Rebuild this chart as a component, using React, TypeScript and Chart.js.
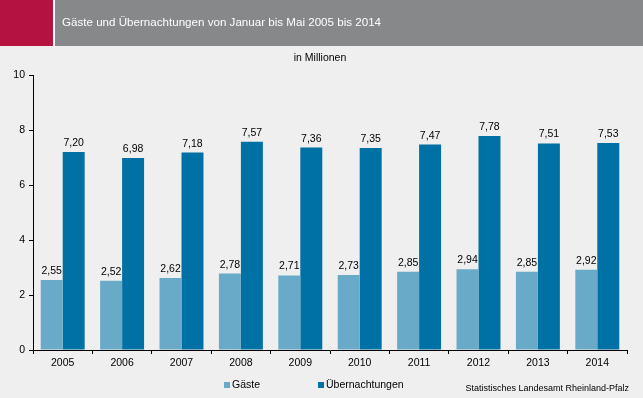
import React, { useEffect, useRef } from "react";
import { Chart, registerables } from "chart.js";

Chart.register(...registerables);

const years = ["2005", "2006", "2007", "2008", "2009", "2010", "2011", "2012", "2013", "2014"];
const gaeste = [2.55, 2.52, 2.62, 2.78, 2.71, 2.73, 2.85, 2.94, 2.85, 2.92];
const uebernachtungen = [7.2, 6.98, 7.18, 7.57, 7.36, 7.35, 7.47, 7.78, 7.51, 7.53];
const seriesNames = ["Gäste", "Übernachtungen"];
const yTicks = [0, 2, 4, 6, 8, 10];

const titleText = "Gäste und Übernachtungen von Januar bis Mai 2005 bis 2014";
const unitText = "in Millionen";
const sourceText = "Statistisches Landesamt Rheinland-Pfalz";

const FONT = '"Liberation Sans", Arial, sans-serif';
const COL_G = "#68aac8";
const COL_U = "#0071a4";
const BG = "#eeefee";

const decorPlugin = {
  id: "decor",
  beforeDraw(chart: any) {
    const ctx = chart.ctx;
    const w = chart.width;
    const h = chart.height;
    ctx.save();
    ctx.fillStyle = BG;
    ctx.fillRect(0, 0, w, h);
    ctx.fillStyle = "#b5133f";
    ctx.fillRect(0, 0, 53, 46);
    ctx.fillStyle = "#ffffff";
    ctx.fillRect(53, 0, 2, 46);
    ctx.fillStyle = "#878889";
    ctx.fillRect(55, 0, w - 55, 46);
    ctx.fillStyle = "#ffffff";
    ctx.font = `11.6px ${FONT}`;
    ctx.textBaseline = "middle";
    ctx.textAlign = "left";
    ctx.fillText(titleText, 62, 22.5);
    ctx.fillStyle = "#000000";
    ctx.font = `10.5px ${FONT}`;
    ctx.textAlign = "center";
    ctx.fillText(unitText, 320, 58.5);
    // legend
    const items = [
      { x: 224, color: COL_G, label: seriesNames[0] },
      { x: 318, color: COL_U, label: seriesNames[1] },
    ];
    ctx.textAlign = "left";
    for (const it of items) {
      ctx.fillStyle = it.color;
      ctx.fillRect(it.x, 382, 6, 6);
      ctx.fillStyle = "#000000";
      ctx.fillText(it.label, it.x + 8, 385.5);
    }
    ctx.font = `9px ${FONT}`;
    ctx.textAlign = "right";
    ctx.fillText(sourceText, 629, 389);
    ctx.restore();
  },
  afterDatasetsDraw(chart: any) {
    const ctx = chart.ctx;
    ctx.save();
    ctx.font = `10.5px ${FONT}`;
    ctx.fillStyle = "#000000";
    ctx.textAlign = "center";
    ctx.textBaseline = "alphabetic";
    chart.data.datasets.forEach((ds: any, di: number) => {
      const meta = chart.getDatasetMeta(di);
      meta.data.forEach((el: any, i: number) => {
        const v = ds.data[i] as number;
        ctx.fillText(v.toFixed(2).replace(".", ","), el.x, el.y - 6);
      });
    });
    ctx.restore();
  },
};

export default function App() {
  const ref = useRef<HTMLCanvasElement | null>(null);
  useEffect(() => {
    document.body.style.margin = "0";
    if (!ref.current) return;
    const chart = new Chart(ref.current, {
      type: "bar",
      data: {
        labels: years,
        datasets: [
          { label: seriesNames[0], data: gaeste, backgroundColor: COL_G, categoryPercentage: 0.74, barPercentage: 1 },
          { label: seriesNames[1], data: uebernachtungen, backgroundColor: COL_U, categoryPercentage: 0.74, barPercentage: 1 },
        ],
      },
      options: {
        responsive: false,
        animation: false,
        devicePixelRatio: 1,
        layout: { padding: { top: 75, right: 16, left: 0, bottom: 0 } },
        plugins: { legend: { display: false }, tooltip: { enabled: false }, title: { display: false } },
        scales: {
          x: {
            grid: { display: true, drawOnChartArea: false, drawTicks: true, tickLength: 4, color: "#000000", offset: true },
            border: { display: true, color: "#000000", width: 1 },
            ticks: { color: "#000000", font: { family: FONT, size: 10.5 }, padding: 3, maxRotation: 0 },
            afterFit: (s: any) => { s.height = 48; },
          },
          y: {
            min: 0,
            max: 10,
            afterBuildTicks: (s: any) => { s.ticks = yTicks.map((v) => ({ value: v })); },
            grid: { display: true, drawOnChartArea: false, drawTicks: true, tickLength: 4, color: "#000000" },
            border: { display: true, color: "#000000", width: 1 },
            ticks: { color: "#000000", font: { family: FONT, size: 10.5 }, padding: 4 },
            afterFit: (s: any) => { s.width = 33; },
          },
        },
      },
      plugins: [decorPlugin],
    });
    return () => chart.destroy();
  }, []);
  return (
    <canvas
      ref={ref}
      width={643}
      height={398}
      style={{ position: "absolute", left: 0, top: 0, width: 643, height: 398 }}
    />
  );
}
